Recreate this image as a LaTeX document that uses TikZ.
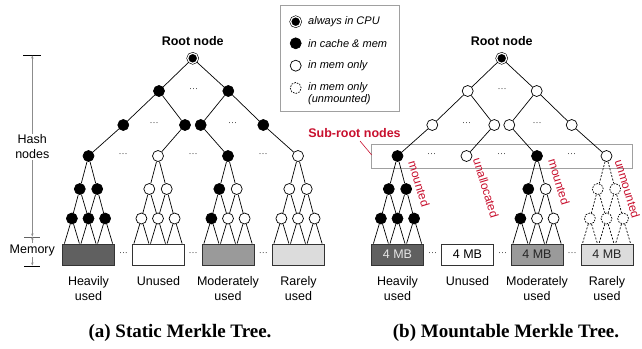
\documentclass[tikz,border=0pt]{standalone}
\usepackage{fontspec}
\setmainfont{Liberation Sans}
\newfontfamily\capfont{Liberation Serif}
\usetikzlibrary{calc,arrows.meta}
\definecolor{subred}{HTML}{C8102E}
\definecolor{axgray}{HTML}{8C8C8C}
\definecolor{boxgray}{HTML}{A0A0A0}
\definecolor{heavy}{HTML}{606060}
\definecolor{moder}{HTML}{9A9A9A}
\definecolor{rare}{HTML}{DCDCDC}
\newcommand{\mysubtree}[8]{%
  \node[#3] (#1a) at (#2-8.7,189) {};
  \node[#4] (#1b) at (#2+8.7,189) {};
  \node[#5] (#1c) at (#2-16.6,218.5) {};
  \node[#6] (#1d) at (#2,218.5) {};
  \node[#7] (#1e) at (#2+16.6,218.5) {};
  \draw[#8] (#1r) -- (#1a);
  \draw[#8] (#1r) -- (#1b);
  \draw[#8] (#1a) -- (#1c);
  \draw[#8] (#1a) -- (#1d);
  \draw[#8] (#1b) -- (#1d);
  \draw[#8] (#1b) -- (#1e);
  \foreach \q in {c,d,e} {
    \draw[#8] (#1\q) -- ($(#1\q.center |- #1m.north)+(-7.5,0)$);
    \draw[#8] (#1\q) -- ($(#1\q.center |- #1m.north)+(7.5,0)$);
  }%
}
\begin{document}
\begin{tikzpicture}[x=1pt,y=-1pt,
  font=\fontsize{12.5}{15}\selectfont,
  full/.style={circle, draw=black, fill=black, line width=0.7pt, minimum size=11pt, inner sep=0pt},
  hollow/.style={circle, draw=black, fill=white, line width=0.7pt, minimum size=11pt, inner sep=0pt},
  dashnode/.style={hollow, dash pattern=on 1.6pt off 1.2pt},
  rootnode/.style={circle, draw=black, fill=black, double=white, double distance=1.2pt, line width=0.6pt, minimum size=10pt, inner sep=0pt},
  edge/.style={line width=0.7pt},
  dedge/.style={line width=0.7pt, dash pattern=on 2pt off 1.5pt},
  dots/.style={font=\fontsize{9}{9}\selectfont, text=black!80, inner sep=0pt},
  mem/.style={draw=black!80, line width=0.8pt, minimum width=52pt, minimum height=21pt, inner sep=0pt},
  lbl/.style={align=center, anchor=north, inner sep=0pt},
  redlbl/.style={text=subred, rotate=-73, inner sep=0pt, font=\fontsize{12}{14}\selectfont},
  boldlbl/.style={font=\fontsize{12.5}{15}\selectfont\bfseries},
  axisline/.style={draw=axgray, line width=0.7pt},
  tip/.style={-{Stealth[length=3pt,width=2.4pt]}},
  legtxt/.style={anchor=west, inner sep=0pt, font=\fontsize{11}{12}\selectfont\itshape, align=left},
  captxt/.style={font=\capfont\bfseries\fontsize{19}{22}\selectfont}
]
\useasboundingbox (0,0) rectangle (642,348);

% ---------------- left axis ----------------
\draw[black, line width=0.7pt] (23,55) -- (41,55);
\draw[axgray!70!black, line width=0.7pt] (24,237) -- (40,237);
\draw[black, line width=0.7pt] (24,266) -- (40,266);
\coordinate (htop) at (32.3,55.5);
\coordinate (hbot) at (32.3,236.5);
\coordinate (mbot) at (32.3,265.5);
\node[align=center, inner sep=1pt] (hashlbl) at (32.3,147) {Hash\\nodes};
\node[inner sep=1.5pt] (memlbl) at (32.3,250) {Memory};
\draw[axisline, tip] (hashlbl.north) -- (htop);
\draw[axisline, tip] (hashlbl.south) -- (hbot);
\draw[axisline, tip] (memlbl.north) -- (hbot);
\draw[axisline, tip] (memlbl.south) -- (mbot);

% ---------------- legend ----------------
\node[draw=boxgray, line width=0.8pt, minimum width=119pt, minimum height=106pt, inner sep=0pt] (legend) at (339.5,58) {};
\node[rootnode] (lg1) at (295.7,21.7) {};
\node[full] (lg2) at (295.7,43.3) {};
\node[hollow] (lg3) at (295.7,65.7) {};
\node[dashnode] (lg4) at (295.7,88) {};
\node[legtxt] (lt1) at (308,21.7) {always in CPU};
\node[legtxt] (lt2) at (308,43.3) {in cache \& mem};
\node[legtxt] (lt3) at (308,65.7) {in mem only};
\node[legtxt] (lt4) at (308,93.5) {in mem only\\(unmounted)};

% ---------------- left tree ----------------
\node[boldlbl] (Lrootlbl) at (192.7,40.7) {Root node};
\node[rootnode] (Lroot) at (192.7,58.3) {};
\node[full] (L1a) at (159,91) {};
\node[full] (L1b) at (228.3,91) {};
\node[dots] (Ld1) at (193.5,90) {···};
\node[full] (L2a) at (123.3,125) {};
\node[full] (L2b) at (185,125) {};
\node[full] (L2c) at (200.7,125) {};
\node[full] (L2d) at (263.3,125) {};
\node[dots] (Ld2) at (154,124) {···};
\node[dots] (Ld3) at (232.5,124) {···};
\node[full] (LAr) at (88.5,156) {};
\node[hollow] (LBr) at (158,156) {};
\node[full] (LCr) at (228,156) {};
\node[hollow] (LDr) at (298,156) {};
\node[dots] (Ld4) at (123,155) {···};
\node[dots] (Ld5) at (193,155) {···};
\node[dots] (Ld6) at (263,155) {···};
\draw[edge] (Lroot) -- (L1a);
\draw[edge] (Lroot) -- (L1b);
\draw[edge] (L1a) -- (L2a);
\draw[edge] (L1a) -- (L2b);
\draw[edge] (L1b) -- (L2c);
\draw[edge] (L1b) -- (L2d);
\draw[edge] (L2a) -- (LAr);
\draw[edge] (L2b) -- (LBr);
\draw[edge] (L2c) -- (LCr);
\draw[edge] (L2d) -- (LDr);

\node[mem, fill=heavy] (LAm) at (88.5,254.5) {};
\node[mem, fill=white] (LBm) at (158.5,254.5) {};
\node[mem, fill=moder] (LCm) at (228,254.5) {};
\node[mem, fill=rare] (LDm) at (298.5,254.5) {};
\node[dots] (Lm1) at (123.5,254) {···};
\node[dots] (Lm2) at (193.2,254) {···};
\node[dots] (Lm3) at (263.3,254) {···};

\mysubtree{LA}{88.5}{full}{full}{full}{full}{full}{edge}
\mysubtree{LB}{158}{hollow}{hollow}{hollow}{hollow}{hollow}{edge}
\mysubtree{LC}{228}{full}{hollow}{full}{hollow}{hollow}{edge}
\mysubtree{LD}{298}{hollow}{hollow}{hollow}{hollow}{hollow}{edge}

\node[lbl] (La) at (88.5,276) {Heavily\\used};
\node[lbl] (Lb) at (158.5,276) {Unused};
\node[lbl] (Lc) at (228,276) {Moderately\\used};
\node[lbl] (Ld) at (298.5,276) {Rarely\\used};

\node[captxt] (capa) at (180,332.5) {(a) Static Merkle Tree.};

% ---------------- right tree ----------------
\node[draw=boxgray, line width=0.8pt, minimum width=260.6pt, minimum height=24pt, inner sep=0pt] (subbox) at (502,156.7) {};
\node[boldlbl, text=subred] (sublbl) at (354.5,132.7) {Sub-root nodes};
\coordinate (sp) at (360,141);
\coordinate (se) at (371.7,155);
\draw[subred, line width=0.6pt] (sp) -- (se);

\node[boldlbl] (Rrootlbl) at (501.7,40.7) {Root node};
\node[rootnode] (Rroot) at (501.7,58.3) {};
\node[hollow] (R1a) at (467.7,91) {};
\node[hollow] (R1b) at (536.7,91) {};
\node[dots] (Rd1) at (502,90) {···};
\node[hollow] (R2a) at (432.3,125) {};
\node[hollow] (R2b) at (494.3,125) {};
\node[hollow] (R2c) at (509.3,125) {};
\node[hollow] (R2d) at (571.7,125) {};
\node[dots] (Rd2) at (466.7,124) {···};
\node[dots] (Rd3) at (537,124) {···};
\node[full] (RAr) at (397.5,156) {};
\node[hollow] (RBr) at (466.5,156) {};
\node[full] (RCr) at (537,156) {};
\node[hollow] (RDr) at (606.5,156) {};
\node[dots] (Rd4) at (431.7,155) {···};
\node[dots] (Rd5) at (501.7,155) {···};
\node[dots] (Rd6) at (571.7,155) {···};
\draw[edge] (Rroot) -- (R1a);
\draw[edge] (Rroot) -- (R1b);
\draw[edge] (R1a) -- (R2a);
\draw[edge] (R1a) -- (R2b);
\draw[edge] (R1b) -- (R2c);
\draw[edge] (R1b) -- (R2d);
\draw[edge] (R2a) -- (RAr);
\draw[edge] (R2b) -- (RBr);
\draw[edge] (R2c) -- (RCr);
\draw[edge] (R2d) -- (RDr);

\node[mem, fill=heavy, text=black!10] (RAm) at (397.5,254.5) {4 MB};
\node[mem, fill=white] (RBm) at (467.5,254.5) {4 MB};
\node[mem, fill=moder, text=black!85] (RCm) at (537,254.5) {4 MB};
\node[mem, fill=rare, text=black!85] (RDm) at (607,254.5) {4 MB};
\node[dots] (Rm1) at (432.5,254) {···};
\node[dots] (Rm2) at (502.5,254) {···};
\node[dots] (Rm3) at (572,254) {···};

\mysubtree{RA}{397.5}{full}{full}{full}{full}{full}{edge}
\mysubtree{RC}{537}{full}{hollow}{full}{hollow}{hollow}{edge}
\mysubtree{RD}{606.5}{dashnode}{dashnode}{dashnode}{dashnode}{dashnode}{dedge}

\node[redlbl] (ml1) at (419,184) {mounted};
\node[redlbl] (ml2) at (486,188) {unallocated};
\node[redlbl] (ml3) at (559,182) {mounted};
\node[redlbl] (ml4) at (627.5,189) {unmounted};

\node[lbl] (Ra) at (397.5,276) {Heavily\\used};
\node[lbl] (Rb) at (467.5,276) {Unused};
\node[lbl] (Rc) at (537,276) {Moderately\\used};
\node[lbl] (Rd) at (607,276) {Rarely\\used};

\node[captxt] (capb) at (506,332.5) {(b) Mountable Merkle Tree.};
\end{tikzpicture}
\end{document}
